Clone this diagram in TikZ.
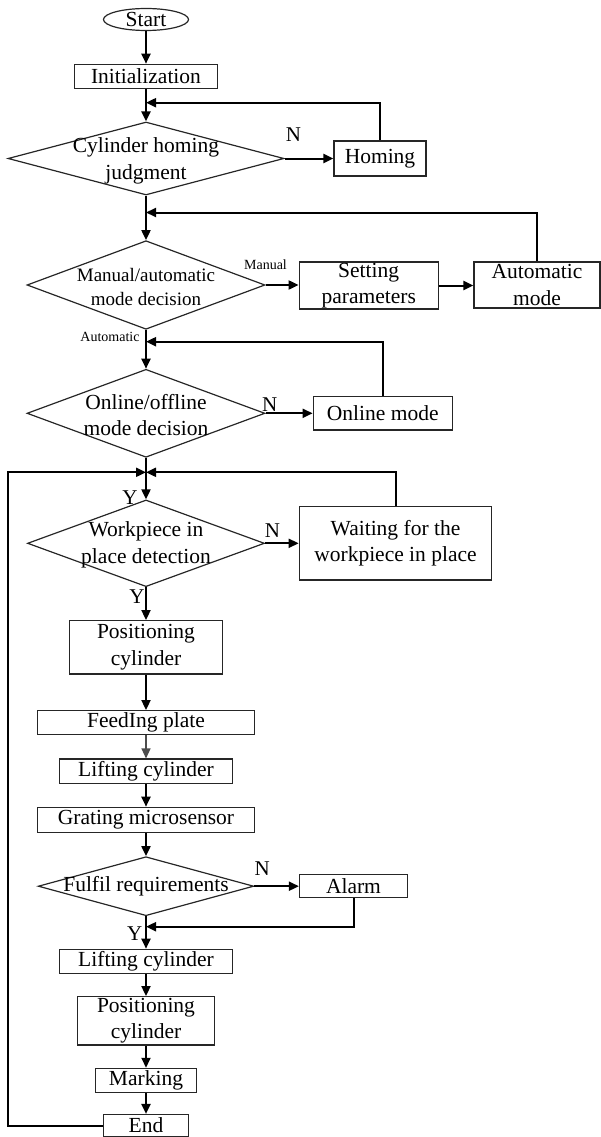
\documentclass[tikz,border=0pt]{standalone}
\usepackage{fontspec}
\setmainfont{Liberation Serif}
\usetikzlibrary{shapes.geometric,arrows.meta}
\begin{document}
\begin{tikzpicture}[x=1pt,y=-1pt,
  box/.style={draw=black!85, line width=1.2pt, rectangle, inner sep=0pt, align=center, font=\fontsize{21.5}{26.5}\selectfont},
  ell/.style={draw=black!85, line width=1.2pt, ellipse, inner sep=0pt, minimum width=85pt, minimum height=22pt, font=\fontsize{21.5}{26.5}\selectfont},
  dia/.style={draw=black!85, line width=1.2pt, diamond, inner sep=0pt},
  dtext/.style={align=center, inner sep=0pt, font=\fontsize{21.5}{26.5}\selectfont},
  lab/.style={inner sep=0pt, font=\fontsize{21}{24}\selectfont},
  small/.style={inner sep=0pt, font=\fontsize{14}{16}\selectfont},
  arr/.style={line width=2pt, -{Triangle[length=10pt,width=9pt]}},
  thinarr/.style={line width=1.3pt, draw=black!70, -{Triangle[length=10pt,width=9pt]}}]
\useasboundingbox (0,0) rectangle (601,1137);

% nodes
\node[ell] (start) at (146,19.5) {Start};
\node[box, minimum width=143pt, minimum height=24pt] (init) at (146,76.3) {Initialization};
\node[dia, minimum width=276pt, minimum height=73pt] (d1) at (146,158.5) {};
\node[dtext] (t1) at (146,161) {Cylinder homing\\judgment};
\node[box, minimum width=92pt, minimum height=35pt] (hom) at (380,158.5) {Homing};
\node[dia, minimum width=238pt, minimum height=88.6pt] (d2) at (146,285) {};
\node[dtext, font=\fontsize{19}{24}\selectfont] (t2) at (146,287) {Manual/automatic\\mode decision};
\node[box, minimum width=139pt, minimum height=47pt] (setp) at (368.7,285.5) {Setting\\parameters};
\node[box, minimum width=126pt, minimum height=46pt] (auto) at (537,285) {Automatic\\mode};
\node[dia, minimum width=238pt, minimum height=88pt] (d3) at (146,413.3) {};
\node[dtext] (t3) at (146,415) {Online/offline\\mode decision};
\node[box, minimum width=139pt, minimum height=33.5pt] (onl) at (382.7,413.3) {Online mode};
\node[dia, minimum width=237pt, minimum height=86.7pt] (d4) at (146,543.3) {};
\node[dtext] (t4) at (146,545) {Workpiece in\\place detection};
\node[box, minimum width=192.5pt, minimum height=73.3pt] (wait) at (395.5,543.3) {Waiting for the\\workpiece in place};
\node[box, minimum width=153pt, minimum height=53.3pt] (pos1) at (146,647.3) {Positioning\\cylinder};
\node[box, minimum width=217pt, minimum height=23.7pt] (feed) at (146,722.5) {FeedIng plate};
\node[box, minimum width=173pt, minimum height=24.3pt] (lift1) at (146,771.2) {Lifting cylinder};
\node[box, minimum width=217pt, minimum height=25pt] (grat) at (146,819.8) {Grating microsensor};
\node[dia, minimum width=215.5pt, minimum height=59pt] (d5) at (146,886.2) {};
\node[dtext] (t5) at (146,886) {Fulfil requirements};
\node[box, minimum width=108pt, minimum height=23.3pt] (alarm) at (353.5,886.2) {Alarm};
\node[box, minimum width=173pt, minimum height=24pt] (lift2) at (146,961.3) {Lifting cylinder};
\node[box, minimum width=136.6pt, minimum height=48.3pt] (pos2) at (146,1020.8) {Positioning\\cylinder};
\node[box, minimum width=100.6pt, minimum height=24.3pt] (mark) at (146,1080.5) {Marking};
\node[box, minimum width=85.4pt, minimum height=22pt] (end) at (146,1125.5) {End};

% labels
\node[lab] (n1) at (293.5,135) {N};
\node[lab] (n2) at (269.8,405) {N};
\node[lab] (n3) at (272.5,530.7) {N};
\node[lab] (n4) at (262.1,868.3) {N};
\node[lab] (y1) at (130,497.3) {Y};
\node[lab] (y2) at (137,596.7) {Y};
\node[lab] (y3) at (134.7,934) {Y};
\node[small] (lman) at (265.5,265) {Manual};
\node[small] (lauto) at (110,337) {Automatic};

% merge points
\coordinate (m1) at (146,102.7);
\coordinate (m2) at (146,212.5);
\coordinate (m3) at (146,341.7);
\coordinate (m4) at (146,472.3);
\coordinate (m5) at (146,926.7);
\coordinate (lb) at (8.4,472.3);

% connectors
\draw[arr] (start) -- (init);
\draw[arr] (init) -- (d1);
\draw[arr] (d1.east) -- (d1.east -| hom.west);
\draw[arr] (hom.north) |- (m1);
\draw[arr] (d1) -- (d2);
\draw[arr] (d2.east) -- (d2.east -| setp.west);
\draw[arr] (setp.east) -- (setp.east -| auto.west);
\draw[arr] (auto.north) |- (m2);
\draw[arr] (d2) -- (d3);
\draw[arr] (d3.east) -- (d3.east -| onl.west);
\draw[arr] (onl.north) |- (m3);
\draw[arr] (d3) -- (d4);
\draw[arr] (d4.east) -- (d4.east -| wait.west);
\draw[arr] (wait.north) |- (m4);
\draw[arr] (end.west) -| (lb) -- (m4);
\draw[arr] (d4) -- (pos1);
\draw[arr] (pos1) -- (feed);
\draw[thinarr] (feed) -- (lift1);
\draw[arr] (lift1) -- (grat);
\draw[arr] (grat) -- (d5);
\draw[arr] (d5.east) -- (d5.east -| alarm.west);
\draw[arr] (alarm.south) |- (m5);
\draw[arr] (d5) -- (lift2);
\draw[arr] (lift2) -- (pos2);
\draw[arr] (pos2) -- (mark);
\draw[arr] (mark) -- (end);
\end{tikzpicture}
\end{document}
